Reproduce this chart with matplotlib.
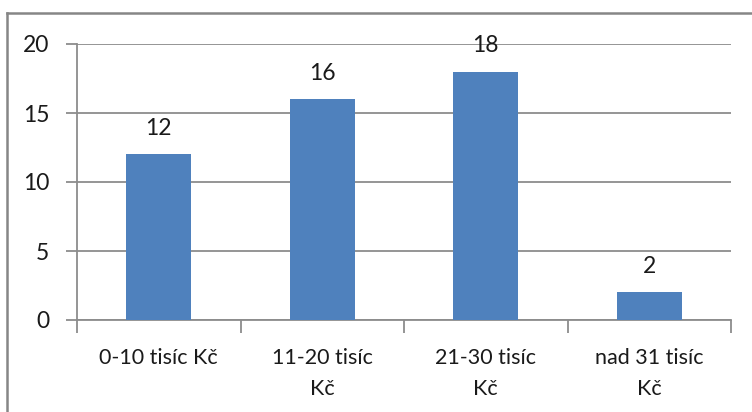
import matplotlib
matplotlib.use("Agg")
import matplotlib.pyplot as plt
from matplotlib.lines import Line2D

categories = ["0-10 tisíc Kč", "11-20 tisíc\nKč", "21-30 tisíc\nKč", "nad 31 tisíc\nKč"]
values = [12, 16, 18, 2]
y_ticks = [0, 5, 10, 15, 20]

plt.rcParams["font.family"] = ["Lato", "DejaVu Sans"]

W, H = 752, 412
fig = plt.figure(figsize=(W / 100, H / 100), dpi=100)
ax = fig.add_axes([77 / W, 92 / H, 654 / W, 276 / H])

bar_color = "#4F81BD"
grid_color = "#8C8C8C"
text_color = "#1A1A1A"

x = list(range(len(categories)))
bars = ax.bar(x, values, width=0.4, color=bar_color, zorder=3)

for xi, v in zip(x, values):
    ax.annotate(str(v), (xi, v), xytext=(0, 11), textcoords="offset points",
                ha="center", va="bottom", fontsize=16.5, color=text_color)

ax.set_xlim(-0.5, len(categories) - 0.5)
ax.set_ylim(0, 20)
ax.set_yticks(y_ticks)
ax.set_yticklabels([str(t) for t in y_ticks])
ax.yaxis.grid(True, color=grid_color, linewidth=1.3, zorder=0)
ax.set_axisbelow(True)

ax.set_xticks(x)
ax.set_xticklabels(categories, fontsize=15.5, color=text_color, linespacing=1.7, va="top")
ax.set_xticks([i - 0.5 for i in range(len(categories) + 1)], minor=True)
ax.tick_params(axis="x", which="major", length=0, pad=20)
ax.tick_params(axis="x", which="minor", length=9, color=grid_color, width=1.3)
ax.tick_params(axis="y", length=8, color=grid_color, width=1.3, labelsize=16.5,
               labelcolor=text_color, pad=12)

for side in ("top", "right"):
    ax.spines[side].set_visible(False)
for side in ("left", "bottom"):
    ax.spines[side].set_color(grid_color)
    ax.spines[side].set_linewidth(1.3)

# Outer chart frame (top and left edges)
fx = 7 / W
fy = 1 - 13 / H
fig.add_artist(Line2D([fx, 1], [fy, fy], transform=fig.transFigure, color="#868686", lw=1.8))
fig.add_artist(Line2D([fx, fx], [0, fy], transform=fig.transFigure, color="#868686", lw=1.8))

fig.savefig("out.png", dpi=100)
